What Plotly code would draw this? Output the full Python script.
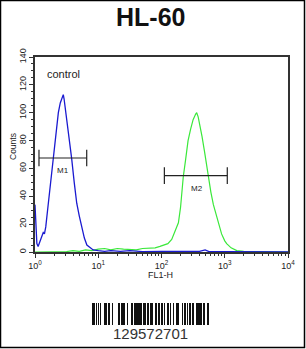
import math
import plotly.graph_objects as go

W, H = 306, 349
FONT = "Liberation Sans, Arial, sans-serif"

# ---- data ----
blue_x = [1.00, 1.02, 1.05, 1.07, 1.12, 1.20, 1.29, 1.35, 1.41, 1.48, 1.58, 1.78, 1.95, 2.14,
          2.34, 2.51, 2.69, 2.80, 2.88, 3.09, 3.39, 3.80, 4.17, 4.57, 5.01, 5.50, 6.03, 6.61,
          7.41, 8.32, 10.0, 12.6, 15.8, 22.4, 31.6, 50.0, 100, 200, 398, 490, 562, 1000, 3162, 10000]
blue_y = [34, 28, 12, 6, 4, 8, 12, 14, 13, 18, 30, 50, 67, 85,
          100, 107, 112, 113, 110, 100, 85, 67, 50, 35, 26, 18, 10, 5,
          3, 1.5, 1, 0.5, 1, 0.5, 1, 0.3, 0.5, 0.3, 0.5, 1.5, 0.3, 0.3, 0.2, 0]

green_x = [1.0, 2.0, 3.16, 3.98, 5.01, 6.31, 7.94, 10, 12.6, 15.8, 20, 25.1, 31.6, 39.8, 50.1,
           63.1, 79.4, 94.6, 112, 126, 145, 158, 185, 200, 221, 240, 263, 288, 316, 347, 360,
           380, 398, 437, 479, 525, 550, 603, 661, 724, 794, 891, 1000, 1072, 1259, 1549,
           1995, 3162, 6310, 10000]
green_y = [0, 0, 0.3, 1, 0.5, 1.5, 1, 2, 2.5, 1.5, 2.5, 2, 2, 1.5, 2.5,
           2.5, 3, 4, 5, 6, 9, 13, 21, 32, 54, 66, 80, 88, 95, 99, 100,
           97, 93, 83, 72, 60, 54, 43, 34, 27, 21, 13, 8, 6, 3, 1,
           0.5, 0.3, 0.2, 0]

marker_names = ["M1", "M2"]
marker_lo = [1.156, 111]
marker_hi = [6.57, 1097]
marker_level = [67.5, 54.8]
marker_label_x = [2.8, 360]
marker_label_y = [58.5, 45.5]

control_label = "control"
control_x = 1.44
control_y = 128

y_ticks = [0, 20, 40, 60, 80, 100, 120, 140]
x_ticks = [1, 10, 100, 1000, 10000]
x_ticktext = ["10<sup>0</sup>", "10<sup>1</sup>", "10<sup>2</sup>", "10<sup>3</sup>", "10<sup>4</sup>"]

barcode_bars = [3, 1, 1, 1, 3, 2, 1, 2, 1, 1, 1, 2, 3.5, 1, 1, 3, 2, 3, 1, 2, 1, 1, 2, 1, 1, 3,
                1, 1, 1, 2, 1, 4, 1, 2, 2]
barcode_gaps = [1, 1, 1, 2.5, 1.5, 2, 5, 1.5, 1, 2.5, 3, 1, 1, 1, 1.5, 1, 1, 2.5, 1.5, 1.5, 1.5,
                1.5, 1.5, 2, 2, 3, 1.5, 1.5, 1, 1.5, 2, 1, 1.5, 1.5, 0]
barcode_text = "129572701"

# ---- figure ----
fig = go.Figure()
fig.add_trace(go.Scatter(x=green_x, y=green_y, mode="lines",
                         line=dict(color="#3ae83a", width=1.2), hoverinfo="skip"))
fig.add_trace(go.Scatter(x=blue_x, y=blue_y, mode="lines",
                         line=dict(color="#1a1ad0", width=1.3), hoverinfo="skip"))

# marker gates
mx, my = [], []
for lo, hi, lv in zip(marker_lo, marker_hi, marker_level):
    mx += [lo, hi, None, lo, lo, None, hi, hi, None]
    my += [lv, lv, None, lv - 6, lv + 6, None, lv - 6, lv + 6, None]
fig.add_trace(go.Scatter(x=mx, y=my, mode="lines", line=dict(color="#222", width=1.2),
                         hoverinfo="skip"))
for name, lx, ly in zip(marker_names, marker_label_x, marker_label_y):
    fig.add_annotation(x=math.log10(lx), y=ly, xref="x", yref="y", text=name, showarrow=False,
                       font=dict(family=FONT, size=8, color="#222"))

fig.add_annotation(x=math.log10(control_x), y=control_y, xref="x", yref="y", text=control_label,
                   showarrow=False, xanchor="left", font=dict(family=FONT, size=11, color="#222"))

# barcode
starts, pos = [], 92.0
for b, g in zip(barcode_bars, barcode_gaps):
    starts.append(pos)
    pos += b + g
fig.add_trace(go.Bar(x=[s + b / 2 for s, b in zip(starts, barcode_bars)], y=[1] * len(starts),
                     width=barcode_bars, marker=dict(color="#111", line=dict(width=0)),
                     xaxis="x2", yaxis="y2", hoverinfo="skip"))
fig.add_annotation(x=150 / W, y=1 - 333 / H, xref="paper", yref="paper", text=barcode_text,
                   showarrow=False, xanchor="center", yanchor="middle",
                   font=dict(family=FONT, size=15, color="#333"))

# title
fig.add_annotation(x=150 / W, y=1 - 17 / H, xref="paper", yref="paper", text="<b>HL-60</b>",
                   showarrow=False, xanchor="center", yanchor="middle",
                   font=dict(family=FONT, size=25, color="#111"))

# axis titles
fig.add_annotation(x=13 / W, y=1 - 147 / H, xref="paper", yref="paper", text="Counts",
                   textangle=-90, showarrow=False, xanchor="center", yanchor="middle",
                   font=dict(family=FONT, size=8.5, color="#222"))
fig.add_annotation(x=160 / W, y=1 - 275 / H, xref="paper", yref="paper", text="FL1-H",
                   showarrow=False, xanchor="center", yanchor="middle",
                   font=dict(family=FONT, size=9, color="#222"))

# outer border
fig.add_shape(type="rect", xref="paper", yref="paper", x0=0.5 / W, x1=304.5 / W,
              y0=1 - 347.5 / H, y1=1 - 0.5 / H, line=dict(color="#000", width=1.5))

minor_x = [k * 10 ** d for d in range(4) for k in range(2, 10)]

fig.update_layout(
    width=W, height=H, margin=dict(l=0, r=0, t=0, b=0, autoexpand=False),
    paper_bgcolor="white", plot_bgcolor="white", showlegend=False, bargap=0,
    font=dict(family=FONT, size=9, color="#222"),
    xaxis=dict(type="log", range=[0, 4], domain=[35 / W, 288 / W], anchor="y", automargin=False,
               tickvals=x_ticks, ticktext=x_ticktext, ticks="outside", ticklen=4,
               tickcolor="#333", showline=True, linecolor="#333", linewidth=1.5, mirror=True,
               showgrid=False, zeroline=False, tickfont=dict(size=9),
               minor=dict(tickvals=minor_x, ticks="outside", ticklen=2, tickcolor="#333")),
    yaxis=dict(range=[0, 140], domain=[1 - 252 / H, 1 - 57 / H], anchor="x", automargin=False,
               tickvals=y_ticks, ticks="outside", ticklen=4, tickcolor="#333", tickangle=-90,
               showline=True, linecolor="#333", linewidth=1.5, mirror=True,
               showgrid=False, zeroline=False, tickfont=dict(size=9),
               minor=dict(dtick=5, ticks="outside", ticklen=2, tickcolor="#333")),
    xaxis2=dict(range=[0, W], domain=[0, 1], anchor="y2", visible=False, fixedrange=True,
                automargin=False),
    yaxis2=dict(range=[0, 1], domain=[1 - 325 / H, 1 - 303 / H], anchor="x2", visible=False,
                fixedrange=True, automargin=False),
)

fig.write_html("out.html")
